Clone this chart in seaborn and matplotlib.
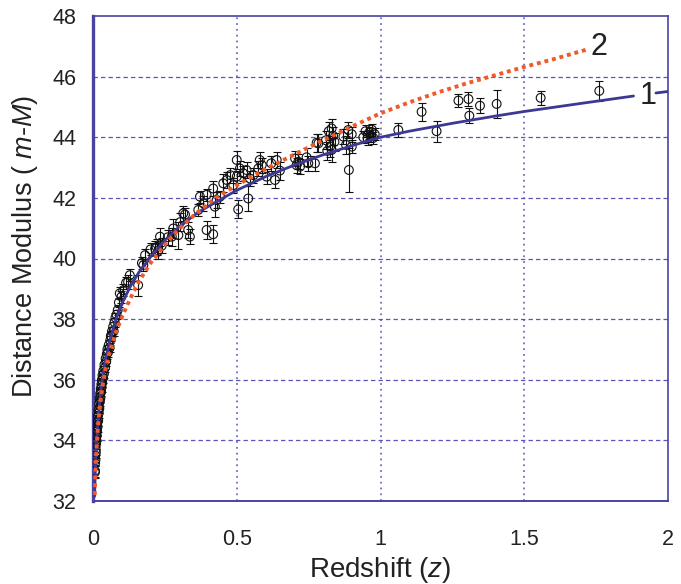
import numpy as np
import pandas as pd
import matplotlib
matplotlib.use("Agg")
import matplotlib.pyplot as plt
import seaborn as sns

# ---------------- data ----------------
# Curve 1 (solid blue)
curve1_z = [0.0055, 0.008, 0.012, 0.018, 0.025, 0.033, 0.045, 0.06, 0.08, 0.1, 0.13, 0.16,
            0.2, 0.25, 0.3, 0.37, 0.45, 0.5, 0.6, 0.7, 0.8, 0.9, 1.0, 1.1, 1.25, 1.4, 1.5,
            1.7, 1.88]
curve1_mu = [32.15, 32.97, 33.85, 34.73, 35.44, 36.04, 36.72, 37.34, 38.0, 38.5, 39.08, 39.55,
             40.05, 40.6, 41.05, 41.55, 41.98, 42.25, 42.7, 43.08, 43.42, 43.72, 44.0, 44.2,
             44.46, 44.7, 44.85, 45.12, 45.36]
curve1_tail_z = [1.958, 2.0]
curve1_tail_mu = [45.46, 45.51]

# Curve 2 (dotted orange)
curve2_z = [0.006, 0.008, 0.011, 0.015, 0.02, 0.027, 0.035, 0.045, 0.055, 0.065, 0.08, 0.1,
            0.12, 0.14, 0.165, 0.2, 0.25, 0.3, 0.36, 0.43, 0.5, 0.6, 0.7, 0.8, 0.9, 1.0,
            1.1, 1.2, 1.3, 1.4, 1.5, 1.6, 1.72]
curve2_mu = [32.2, 32.8, 33.5, 34.15, 34.75, 35.35, 35.9, 36.4, 36.8, 37.12, 37.58, 38.05,
             38.48, 38.88, 39.32, 39.85, 40.45, 40.98, 41.5, 42.02, 42.42, 42.95, 43.43,
             43.9, 44.35, 44.79, 45.15, 45.48, 45.78, 46.05, 46.32, 46.57, 46.9]

# Supernova data points
sn_z = [0.0065, 0.007, 0.0075, 0.008, 0.0085, 0.009, 0.0095, 0.010, 0.0105, 0.011, 0.0115,
        0.012, 0.0125, 0.013, 0.0135, 0.014, 0.015, 0.016, 0.017, 0.018, 0.019, 0.020,
        0.021, 0.022, 0.023, 0.024, 0.025, 0.026, 0.027, 0.028, 0.029, 0.030, 0.031,
        0.032, 0.033, 0.035, 0.036, 0.038, 0.040, 0.042, 0.044, 0.046, 0.048, 0.050,
        0.052, 0.055, 0.058, 0.060, 0.062, 0.064, 0.066, 0.070, 0.072, 0.075, 0.078,
        0.082, 0.086, 0.090, 0.093, 0.099,
        0.105, 0.115, 0.122, 0.128, 0.157, 0.170, 0.175, 0.181, 0.200, 0.216, 0.221,
        0.227, 0.233, 0.239, 0.260, 0.274, 0.279, 0.297, 0.303, 0.314, 0.320, 0.331,
        0.337, 0.366, 0.372, 0.384, 0.395, 0.395, 0.418, 0.424, 0.418, 0.430, 0.442,
        0.453, 0.465, 0.477, 0.488, 0.500, 0.500, 0.505, 0.511, 0.523, 0.534, 0.540,
        0.546, 0.558, 0.575, 0.580, 0.587, 0.604, 0.620, 0.633, 0.639, 0.650, 0.703,
        0.708, 0.714, 0.720, 0.743, 0.749, 0.772, 0.778, 0.784, 0.810, 0.815, 0.820,
        0.825, 0.830, 0.830, 0.835, 0.840, 0.871, 0.880, 0.888, 0.890, 0.900, 0.900,
        0.940, 0.948, 0.955, 0.960, 0.965, 0.970, 0.975, 0.980, 1.062, 1.143, 1.195,
        1.271, 1.306, 1.309, 1.346, 1.404, 1.557, 1.761]
sn_mu = [33.0, 32.95, 33.25, 33.5, 33.35, 33.7, 33.9, 33.6, 34.05, 33.9, 34.2,
         34.0, 34.35, 34.15, 34.5, 34.3, 34.6, 34.45, 34.8, 34.65, 35.0, 34.9,
         35.2, 35.05, 35.4, 35.3, 35.55, 35.4, 35.7, 35.6, 35.85, 35.75, 36.0,
         35.9, 36.15, 36.05, 36.3, 36.2, 36.5, 36.4, 36.7, 36.6, 36.85, 37.0,
         36.9, 37.15, 37.05, 37.3, 37.45, 37.42, 37.6, 37.75, 37.6, 37.9, 38.05,
         38.15, 38.3, 38.55, 38.85, 38.74,
         38.95, 39.2, 39.23, 39.45, 39.12, 39.85, 39.78, 40.11, 40.3, 40.33, 40.38,
         40.25, 40.72, 40.42, 40.7, 40.72, 40.99, 40.77, 41.2, 41.49, 41.45, 40.94,
         40.72, 41.6, 42.04, 41.82, 42.1, 40.94, 42.31, 41.71, 40.8, 41.93, 42.04,
         42.48, 42.59, 42.75, 42.42, 43.25, 42.7, 41.62, 42.97, 42.81, 42.92, 41.98,
         42.64, 42.75, 42.97, 43.25, 43.08, 42.7, 43.14, 42.59, 43.25, 42.9, 43.3,
         43.08, 43.19, 43.03, 43.34, 43.14, 43.14, 43.82, 43.8, 43.9, 43.55, 44.2,
         43.7, 44.29, 43.58, 44.05, 43.85, 44.02, 43.75, 44.24, 42.92, 43.69, 44.1,
         44.0, 44.2, 43.95, 44.15, 44.05, 44.25, 43.98, 44.1, 44.24, 44.84, 44.2,
         45.21, 45.26, 44.71, 45.04, 45.1, 45.3, 45.53]
sn_err = [0.2, 0.2, 0.2, 0.2, 0.18, 0.18, 0.2, 0.18, 0.18, 0.2, 0.18,
          0.18, 0.18, 0.18, 0.16, 0.16, 0.16, 0.16, 0.16, 0.16, 0.16, 0.16,
          0.16, 0.16, 0.16, 0.16, 0.15, 0.15, 0.15, 0.15, 0.15, 0.15, 0.15,
          0.15, 0.15, 0.15, 0.15, 0.15, 0.15, 0.15, 0.15, 0.15, 0.15, 0.15,
          0.15, 0.15, 0.15, 0.15, 0.15, 0.15, 0.15, 0.15, 0.15, 0.15, 0.15,
          0.15, 0.15, 0.15, 0.2, 0.2,
          0.2, 0.2, 0.22, 0.2, 0.35, 0.2, 0.2, 0.2, 0.2, 0.25, 0.25,
          0.25, 0.3, 0.25, 0.25, 0.3, 0.3, 0.45, 0.3, 0.25, 0.2, 0.25,
          0.25, 0.2, 0.2, 0.25, 0.2, 0.3, 0.25, 0.35, 0.3, 0.25, 0.2,
          0.3, 0.25, 0.25, 0.25, 0.3, 0.2, 0.3, 0.25, 0.25, 0.25, 0.4,
          0.25, 0.25, 0.25, 0.25, 0.25, 0.25, 0.25, 0.25, 0.25, 0.3, 0.25,
          0.25, 0.25, 0.25, 0.3, 0.25, 0.25, 0.3, 0.3, 0.3, 0.3, 0.3,
          0.35, 0.3, 0.4, 0.3, 0.3, 0.25, 0.3, 0.25, 0.74, 0.22, 0.25,
          0.2, 0.2, 0.2, 0.2, 0.2, 0.2, 0.2, 0.2, 0.24, 0.3, 0.35,
          0.22, 0.22, 0.25, 0.25, 0.46, 0.24, 0.34]

x_ticks = [0, 0.5, 1, 1.5, 2]
x_tick_labels = ["0", "0.5", "1", "1.5", "2"]
y_ticks = [32, 34, 36, 38, 40, 42, 44, 46, 48]
curve_labels = ["1", "2"]

# ---------------- styling ----------------
sns.set_style("white")
plt.rcParams['font.family'] = ['Liberation Sans', 'DejaVu Sans']
plt.rcParams['mathtext.fontset'] = 'custom'
plt.rcParams['mathtext.it'] = 'Liberation Sans:italic'
plt.rcParams['mathtext.rm'] = 'Liberation Sans'

frame_col = "#4a44a0"
grid_col = "#5a56b8"
blue_col = "#3d3894"
orange_col = "#ee5a2a"

fig = plt.figure(figsize=(6.81, 5.84), dpi=100)
ax = fig.add_axes([93 / 681, 1 - 501 / 584, 575 / 681, 485 / 584])

# grid lines
for yv in y_ticks[1:-1]:
    ax.axhline(yv, color=grid_col, lw=0.9, ls=(0, (3.5, 2.5)), zorder=1)
for xv in x_ticks[1:-1]:
    ax.axvline(xv, color=grid_col, lw=1.1, ls=(0, (1.2, 2.6)), zorder=1)

# data points
df_sn = pd.DataFrame({"z": sn_z, "mu": sn_mu, "err": sn_err})
ax.errorbar(df_sn["z"], df_sn["mu"], yerr=df_sn["err"], fmt="none", ecolor="#111111",
            elinewidth=0.8, capsize=3.2, capthick=0.8, zorder=2)
sns.scatterplot(data=df_sn, x="z", y="mu", ax=ax, marker="o", s=40,
                facecolors="none", edgecolor="#111111", linewidth=0.8, zorder=3)

# curves
df1 = pd.DataFrame({"z": curve1_z, "mu": curve1_mu})
df1t = pd.DataFrame({"z": curve1_tail_z, "mu": curve1_tail_mu})
df2 = pd.DataFrame({"z": curve2_z, "mu": curve2_mu})
sns.lineplot(data=df1, x="z", y="mu", ax=ax, color=blue_col, lw=2.0, sort=False, zorder=4)
sns.lineplot(data=df1t, x="z", y="mu", ax=ax, color=blue_col, lw=2.0, sort=False, zorder=4)
l2 = sns.lineplot(data=df2, x="z", y="mu", ax=ax, color=orange_col, lw=2.8, sort=False, zorder=5)
l2.lines[-1].set_linestyle((0, (1.0, 1.0)))
l2.lines[-1].set_dash_capstyle("butt")

# curve labels
ax.text(1.93, 45.36, curve_labels[0], fontsize=22, color="#222222", ha="center", va="center", zorder=6)
ax.text(1.76, 46.98, curve_labels[1], fontsize=22, color="#222222", ha="center", va="center", zorder=6)

# axes
ax.set_xlim(0, 2)
ax.set_ylim(32, 48)
ax.set_xticks(x_ticks)
ax.set_xticklabels(x_tick_labels)
ax.set_yticks(y_ticks)
ax.tick_params(axis="both", length=0, labelsize=15.5, colors="#222222")
ax.tick_params(axis="x", pad=20)
ax.tick_params(axis="y", pad=12)
ax.set_xlabel(r"Redshift ($z$)", fontsize=20, color="#222222")
ax.set_ylabel(r"Distance Modulus ( $m$-$M$)", fontsize=19.5, color="#222222")
ax.xaxis.set_label_coords(0.5, -0.112)
ax.yaxis.set_label_coords(-0.092, 0.525)

for name, sp in ax.spines.items():
    sp.set_color(frame_col)
    sp.set_linewidth(1.2)
    sp.set_visible(True)
ax.spines["left"].set_linewidth(2.4)
ax.spines["bottom"].set_linewidth(1.4)

fig.savefig("out.png", dpi=100)
